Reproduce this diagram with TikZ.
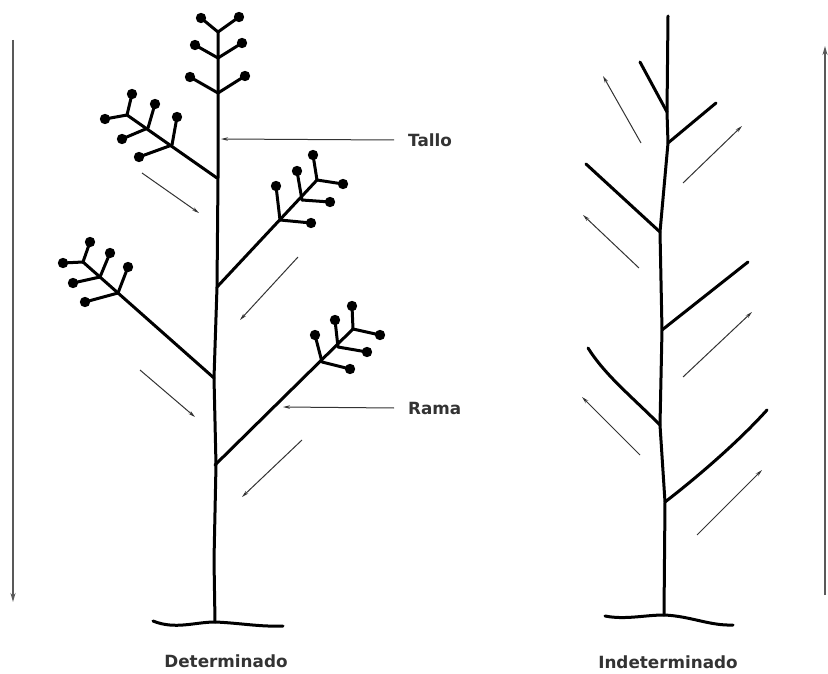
\documentclass[tikz,border=0pt]{standalone}
\usepackage{fontspec}
\setmainfont{DejaVu Sans}
\usetikzlibrary{arrows.meta}
\tikzset{
  planta/.style={line width=3pt, line cap=round, line join=round},
  flecha/.style={line width=1pt, black!80, -{Stealth[length=7pt,width=3.5pt]}},
  eje/.style={line width=1.8pt, black!65, -{Stealth[length=9pt,width=5pt]}},
  rotulo/.style={font=\bfseries\fontsize{16.8}{19}\selectfont, text=black!80, inner sep=0pt}
}
% twig with a flower at its tip
\newcommand{\yema}[2]{\draw[planta] #1 -- #2; \fill #2 circle (5.2pt);}

\begin{document}
\begin{tikzpicture}[x=1pt,y=-1pt]
\useasboundingbox (0,0) rectangle (828,674);

% Determinado - stem
\draw[planta] (215,622) -- (214,560) -- (216,465) -- (214,378) -- (217,287) -- (218,178) -- (218,93) -- (218,32);
\draw[planta] (153,621) .. controls (175,630) and (195,622) .. (215,622) .. controls (240,623) and (260,627) .. (283,626);
% top cluster
\yema{(218,32)}{(201,18)} \yema{(218,32)}{(239,17)}
\yema{(218,58)}{(195,45)} \yema{(218,58)}{(242,43)}
\yema{(218,93)}{(190,77)} \yema{(218,93)}{(245,76)}
% upper left branch
\draw[planta] (217,178) -- (127,115);
\yema{(172,145)}{(177,117)} \yema{(172,145)}{(139,157)}
\yema{(148,128)}{(155,104)} \yema{(148,128)}{(122,139)}
\yema{(127,115)}{(132,94)}  \yema{(127,115)}{(105,119)}
% upper right branch
\draw[planta] (217,287) -- (317,180);
\yema{(280,220)}{(276,186)} \yema{(280,220)}{(311,223)}
\yema{(302,200)}{(297,171)} \yema{(302,200)}{(330,202)}
\yema{(317,180)}{(313,155)} \yema{(317,180)}{(343,184)}
% lower left branch
\draw[planta] (214,378) -- (83,262);
\yema{(118,293)}{(128,267)} \yema{(118,293)}{(85,302)}
\yema{(100,277)}{(110,253)} \yema{(100,277)}{(73,283)}
\yema{(83,262)}{(90,242)}   \yema{(83,262)}{(63,263)}
% lower right branch
\draw[planta] (215,465) -- (353,329);
\yema{(322,362)}{(315,335)} \yema{(322,362)}{(350,369)}
\yema{(338,347)}{(335,320)} \yema{(338,347)}{(367,352)}
\yema{(353,329)}{(352,306)} \yema{(353,329)}{(380,335)}
% flow arrows
\draw[flecha] (142,173) -- (199,213);
\draw[flecha] (298,257) -- (240,320);
\draw[flecha] (140,370) -- (195,417);
\draw[flecha] (302,440) -- (242,497);

% labels
\coordinate (ptallo) at (221,139);
\coordinate (prama) at (283,407);
\node[rotulo, anchor=west] (tallo) at (408,140) {Tallo};
\node[rotulo, anchor=west] (rama) at (408,408) {Rama};
\draw[flecha] (tallo.west) ++(-14,0) -- (ptallo);
\draw[flecha] (rama.west) ++(-14,0) -- (prama);
\node[rotulo] (determinado) at (226,661) {Determinado};

% Indeterminado - stem
\draw[planta] (664,615) -- (665,502) -- (660,425) -- (662,330) -- (660,232) -- (668,143) -- (667,112) -- (668,16);
\draw[planta] (605,616) .. controls (625,620) and (645,615) .. (664,615) .. controls (690,616) and (710,626) .. (733,625);
% branches
\draw[planta] (667,112) -- (640,62);
\draw[planta] (668,143) -- (716,103);
\draw[planta] (660,232) -- (586,164);
\draw[planta] (662,330) -- (748,262);
\draw[planta] (660,425) .. controls (630,395) and (605,375) .. (588,348);
\draw[planta] (665,502) .. controls (700,475) and (740,440) .. (767,410);
% flow arrows
\draw[flecha] (641,143) -- (603,76);
\draw[flecha] (683,183) -- (742,126);
\draw[flecha] (639,268) -- (583,215);
\draw[flecha] (683,377) -- (752,312);
\draw[flecha] (640,455) -- (582,397);
\draw[flecha] (697,535) -- (762,470);
\node[rotulo] (indeterminado) at (668,662) {Indeterminado};

% side arrows
\draw[eje] (13,40) -- (13,602);
\draw[eje] (825,595) -- (825,46);
\end{tikzpicture}
\end{document}
